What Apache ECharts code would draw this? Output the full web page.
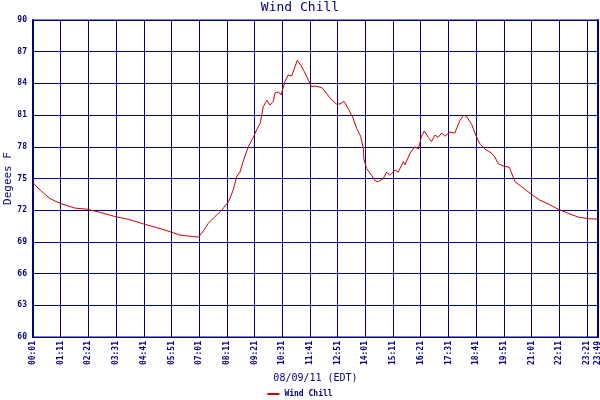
<!DOCTYPE html>
<html>
<head>
<meta charset="utf-8">
<script src="https://cdn.jsdelivr.net/npm/echarts@6/dist/echarts.min.js"></script>
<style>html,body{margin:0;padding:0;background:#fff}#c{width:600px;height:400px}</style>
</head>
<body>
<div id="c"></div>
<script>
// Clock time in minutes since midnight (08/09/11, EDT)
const minutes = [1,19,44,69,107,137,170,208,246,280,314,347,372,406,419,431,444,461,478,495,507,516,524,532,545,558,566,575,583,592,600,608,613,621,628,638,646,655,669,678,687,697,705,714,731,743,752,768,777,787,798,810,819,829,836,837,844,857,865,874,886,895,903,916,924,937,941,954,966,975,983,990,1000,1008,1017,1025,1034,1042,1055,1067,1080,1090,1098,1110,1120,1131,1143,1160,1168,1177,1189,1205,1219,1240,1261,1282,1303,1328,1354,1379,1404,1429];
// Wind chill, degrees F
const windChill = [74.6,73.9,73.1,72.65,72.2,72.1,71.8,71.4,71.1,70.7,70.35,69.97,69.65,69.5,69.45,70.0,70.75,71.4,72.0,72.8,73.9,75.2,75.6,76.6,78.0,78.9,79.6,80.2,81.8,82.4,81.95,82.3,83.1,83.2,82.9,84.2,84.8,84.7,86.2,85.7,85.1,84.3,83.7,83.75,83.6,83.05,82.6,82.05,82.05,82.3,81.6,80.7,79.75,79.0,77.85,76.9,75.95,75.3,74.8,74.7,75.0,75.6,75.3,75.8,75.6,76.6,76.3,77.4,78.0,77.8,79.0,79.5,78.9,78.5,79.1,78.9,79.3,79.0,79.4,79.3,80.5,81.0,80.8,80.1,79.1,78.25,77.8,77.4,77.05,76.4,76.2,76.05,74.7,74.1,73.5,72.95,72.6,72.1,71.7,71.35,71.2,71.15];
const seriesName = 'Wind Chill';
const titleText = 'Wind Chill';
const xName = '08/09/11 (EDT)';
const yName = 'Degees F';
const yMin = 60, yMax = 90, yStep = 3;
const xStartMin = 1, xEndMin = 1429, xStep = 70;

const navy = '#000080';
const mono = '"DejaVu Sans Mono", monospace';
function fmt(v) {
  const m = Math.round(v) + xStartMin;
  const h = Math.floor(m / 60), mm = m % 60;
  return (h < 10 ? '0' : '') + h + ':' + (mm < 10 ? '0' : '') + mm;
}
const data = minutes.map((m, i) => [m - xStartMin, windChill[i]]);

const chart = echarts.init(document.getElementById('c'), null, {renderer: 'canvas'});
chart.setOption({
  animation: false,
  backgroundColor: '#ffffff',
  title: {
    text: titleText, left: 'center', top: 1, padding: 0,
    textStyle: {color: navy, fontFamily: mono, fontSize: 13, fontWeight: 'normal'}
  },
  legend: {
    top: 390, left: 'center', padding: 0,
    icon: 'rect', itemWidth: 12, itemHeight: 2, itemGap: 4,
    textStyle: {color: navy, fontFamily: mono, fontSize: 8, fontWeight: 'bold'},
    data: [seriesName]
  },
  grid: {
    left: 33, right: 2, top: 20, bottom: 63,
    containLabel: false, outerBoundsMode: 'none',
    show: true, borderColor: navy, borderWidth: 1
  },
  xAxis: {
    type: 'value', min: 0, max: xEndMin - xStartMin, interval: xStep,
    name: xName, nameLocation: 'middle', nameGap: 36, nameMoveOverlap: false,
    nameTextStyle: {color: navy, fontFamily: mono, fontSize: 10},
    axisLine: {show: true, lineStyle: {color: navy, width: 1}},
    axisTick: {show: false},
    axisLabel: {
      rotate: 90, margin: 4, color: navy, fontFamily: mono, fontSize: 8, fontWeight: 'bold',
      formatter: fmt, showMaxLabel: true, showMinLabel: true
    },
    splitLine: {show: true, lineStyle: {color: navy, width: 1}}
  },
  yAxis: [{
    type: 'value', min: yMin, max: yMax, interval: yStep,
    name: yName, nameLocation: 'middle', nameGap: 19, nameMoveOverlap: false,
    nameTextStyle: {color: navy, fontFamily: mono, fontSize: 11},
    axisLine: {show: true, lineStyle: {color: navy, width: 2}},
    axisTick: {show: false},
    axisLabel: {margin: 6, color: navy, fontFamily: mono, fontSize: 8, fontWeight: 'bold'},
    splitLine: {show: true, lineStyle: {color: navy, width: 1}}
  }, {
    type: 'value', min: yMin, max: yMax, interval: yStep, position: 'right',
    axisLine: {show: true, lineStyle: {color: navy, width: 2}},
    axisTick: {show: false}, axisLabel: {show: false}, splitLine: {show: false}
  }],
  series: [{
    name: seriesName, type: 'line', data: data,
    showSymbol: false, smooth: false,
    lineStyle: {color: '#cc0000', width: 1},
    itemStyle: {color: '#cc0000'}
  }]
});
</script>
</body>
</html>
